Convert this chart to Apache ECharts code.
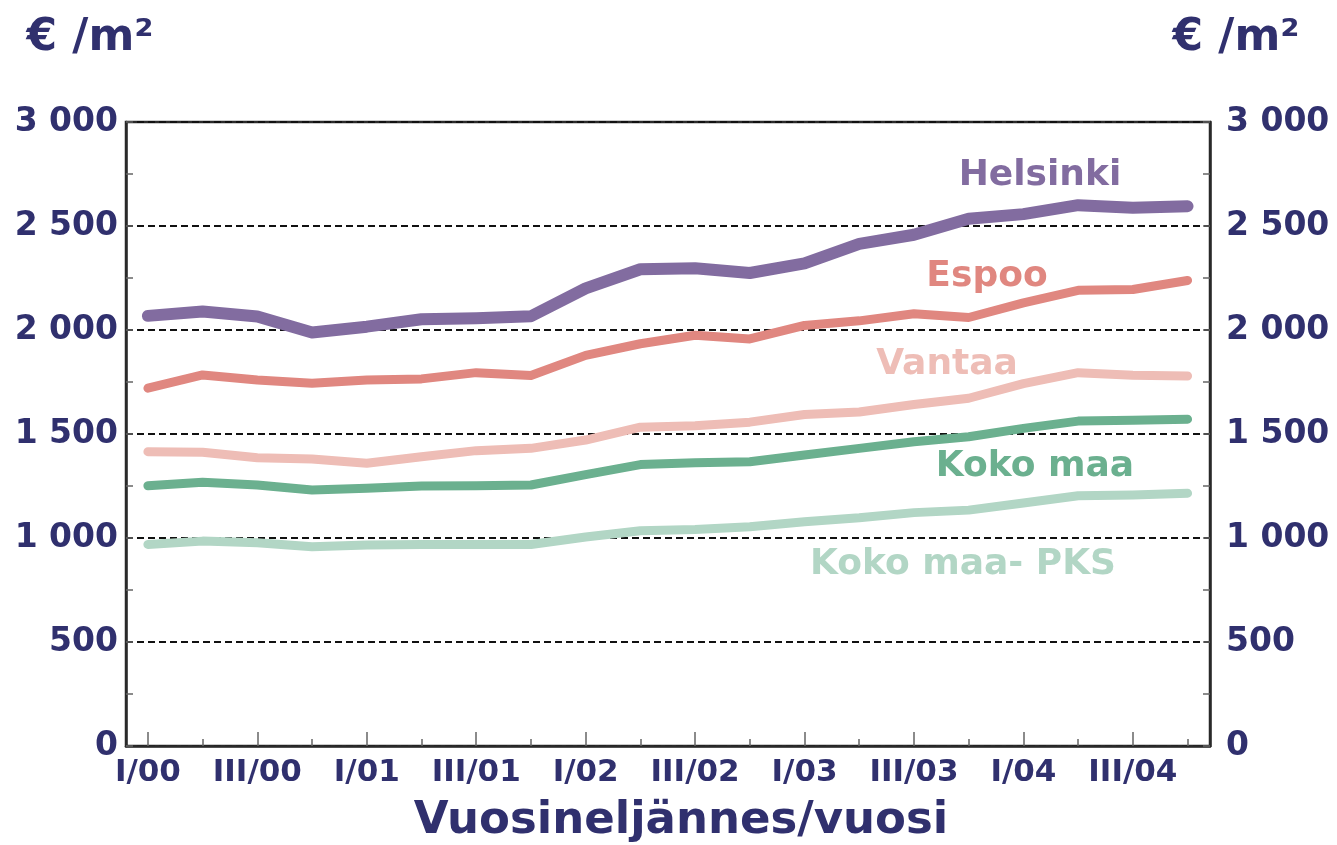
<!DOCTYPE html>
<html>
<head>
<meta charset="utf-8">
<script src="https://cdn.jsdelivr.net/npm/echarts@6/dist/echarts.min.js"></script>
<style>
html,body{margin:0;padding:0;background:#fff;}
#chart{width:1337px;height:845px;}
</style>
</head>
<body>
<div id="chart"></div>
<script>
// Quarters I/00 .. IV/04
const quarters = ['I/00','II/00','III/00','IV/00','I/01','II/01','III/01','IV/01','I/02','II/02','III/02','IV/02','I/03','II/03','III/03','IV/03','I/04','II/04','III/04','IV/04'];
const helsinki = [2068, 2089, 2065, 1988, 2016, 2052, 2057, 2066, 2200, 2292, 2297, 2274, 2320, 2414, 2458, 2535, 2557, 2600, 2588, 2595];
const espoo    = [1720, 1784, 1760, 1744, 1760, 1765, 1795, 1781, 1878, 1934, 1975, 1957, 2022, 2044, 2078, 2060, 2130, 2191, 2195, 2238];
const vantaa   = [1415, 1412, 1386, 1380, 1359, 1391, 1420, 1431, 1471, 1533, 1540, 1557, 1594, 1606, 1642, 1672, 1742, 1795, 1782, 1779];
const kokoMaa  = [1251, 1268, 1255, 1231, 1239, 1250, 1251, 1255, 1305, 1353, 1362, 1367, 1399, 1431, 1463, 1487, 1527, 1562, 1566, 1571];
const kokoMaaPKS = [969, 985, 977, 958, 966, 969, 969, 969, 1005, 1035, 1041, 1054, 1078, 1097, 1122, 1134, 1168, 1203, 1207, 1215];
const seriesNames = ['Helsinki','Espoo','Vantaa','Koko maa','Koko maa- PKS'];
const yTickLabels = {0:'0',500:'500',1000:'1 000',1500:'1 500',2000:'2 000',2500:'2 500',3000:'3 000'};
const unitLabel = '€ /m²';
const xAxisTitle = 'Vuosineljännes/vuosi';

const NAVY = '#30306E';
const FONT = '"DejaVu Sans", Verdana, sans-serif';
const colors = ['#826CA0', '#E08780', '#EEBDB6', '#6BB08F', '#B2D6C5'];
const widths = [12, 9, 9, 9, 9];
const allData = [helsinki, espoo, vantaa, kokoMaa, kokoMaaPKS];

const idx = quarters.map((q, i) => i);
const majorIdx = idx.filter(i => i % 2 === 0);
const minorIdx = idx.filter(i => i % 2 === 1);

const chart = echarts.init(document.getElementById('chart'), null, {renderer: 'canvas'});

const axisLineStyle = {color: '#2a2a2a', width: 2.5};
const tickStyle = {color: '#666', width: 1.5};

const yAxisBase = {
  type: 'value', min: 0, max: 3000, interval: 500,
  axisLine: {show: true, onZero: false, lineStyle: axisLineStyle},
  axisTick: {show: true, inside: true, length: 7, lineStyle: tickStyle},
  minorTick: {show: true, splitNumber: 2, length: 7, lineStyle: tickStyle},
  minorSplitLine: {show: false},
  axisLabel: {
    fontFamily: FONT, fontWeight: 'bold', fontSize: 33, color: NAVY,
    formatter: v => yTickLabels[v] !== undefined ? yTickLabels[v] : '',
    padding: [0, 0, 6, 0]
  }
};

const option = {
  animation: false,
  backgroundColor: '#fff',
  grid: {left: 126, right: 127, top: 122, bottom: 99, show: true, borderColor: '#2a2a2a', borderWidth: 2.5, containLabel: false},
  xAxis: [
    {
      type: 'value', min: -0.4, max: 19.41, position: 'bottom',
      axisLine: {show: true, onZero: false, lineStyle: axisLineStyle},
      axisTick: {show: true, inside: true, length: 14, customValues: majorIdx, lineStyle: tickStyle},
      axisLabel: {
        show: true, customValues: majorIdx, margin: 11,
        fontFamily: FONT, fontWeight: 'bold', fontSize: 31, color: NAVY,
        formatter: v => quarters[Math.round(v)]
      },
      splitLine: {show: false}
    },
    {
      type: 'value', min: -0.4, max: 19.41, position: 'bottom', offset: 0,
      axisLine: {show: false, onZero: false},
      axisTick: {show: true, inside: true, length: 7, customValues: minorIdx, lineStyle: tickStyle},
      axisLabel: {show: false},
      splitLine: {show: false}
    }
  ],
  yAxis: [
    Object.assign({}, yAxisBase, {
      position: 'left',
      splitLine: {show: true, lineStyle: {type: [7, 4], color: '#111', width: 2}},
      axisLabel: Object.assign({}, yAxisBase.axisLabel, {margin: 8})
    }),
    Object.assign({}, yAxisBase, {
      position: 'right',
      splitLine: {show: false},
      axisLabel: Object.assign({}, yAxisBase.axisLabel, {margin: 16})
    })
  ],
  series: allData.map((arr, k) => ({
    name: seriesNames[k],
    type: 'line',
    xAxisIndex: 0,
    yAxisIndex: 0,
    symbol: 'none',
    smooth: false,
    data: arr.map((v, i) => [idx[i], v]),
    lineStyle: {color: colors[k], width: widths[k], cap: 'round', join: 'round'},
    itemStyle: {color: colors[k]},
    z: 3 + (4 - k)
  })),
  graphic: [
    {type: 'text', x: 90, y: 39, style: {text: unitLabel, fill: NAVY, font: 'bold 44px ' + FONT, textAlign: 'center', textVerticalAlign: 'middle'}},
    {type: 'text', x: 1236, y: 39, style: {text: unitLabel, fill: NAVY, font: 'bold 44px ' + FONT, textAlign: 'center', textVerticalAlign: 'middle'}},
    {type: 'text', x: 1040, y: 176, style: {text: seriesNames[0], fill: colors[0], font: 'bold 36px ' + FONT, textAlign: 'center', textVerticalAlign: 'middle'}},
    {type: 'text', x: 987, y: 277, style: {text: seriesNames[1], fill: colors[1], font: 'bold 36px ' + FONT, textAlign: 'center', textVerticalAlign: 'middle'}},
    {type: 'text', x: 947, y: 365, style: {text: seriesNames[2], fill: colors[2], font: 'bold 36px ' + FONT, textAlign: 'center', textVerticalAlign: 'middle'}},
    {type: 'text', x: 1035, y: 467, style: {text: seriesNames[3], fill: colors[3], font: 'bold 36px ' + FONT, textAlign: 'center', textVerticalAlign: 'middle'}},
    {type: 'text', x: 963, y: 565, style: {text: seriesNames[4], fill: colors[4], font: 'bold 36px ' + FONT, textAlign: 'center', textVerticalAlign: 'middle'}},
    {type: 'text', x: 681, y: 821, style: {text: xAxisTitle, fill: NAVY, font: 'bold 45px ' + FONT, textAlign: 'center', textVerticalAlign: 'middle'}}
  ]
};
chart.setOption(option);
</script>
</body>
</html>
